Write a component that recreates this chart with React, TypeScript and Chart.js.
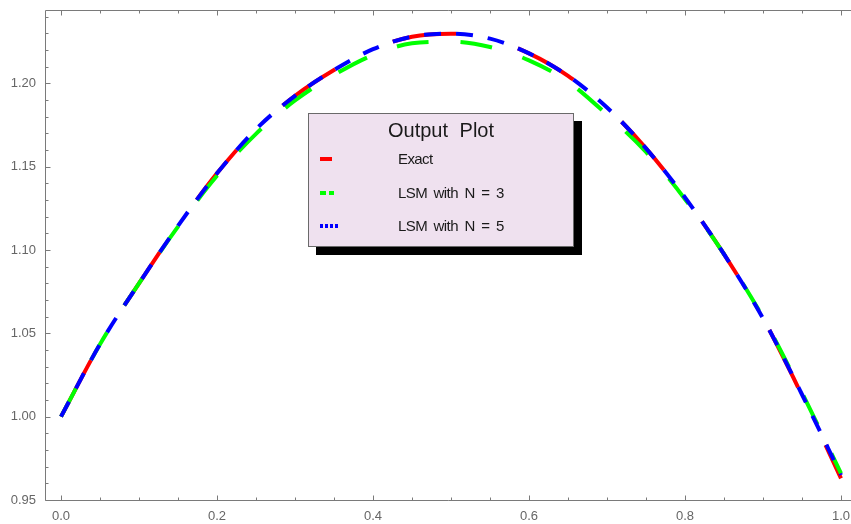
import React, { useEffect, useRef } from "react";
import { Chart, registerables } from "chart.js";

Chart.register(...registerables);

// ---- data ----
const xValues = [0, 0.05, 0.1, 0.15, 0.2, 0.25, 0.3, 0.35, 0.4, 0.45, 0.5, 0.55, 0.6, 0.65, 0.7, 0.75, 0.8, 0.85, 0.9, 0.95, 1.0];
const exactValues = [1.0, 1.0435, 1.08, 1.1145, 1.146, 1.1725, 1.1925, 1.208, 1.2205, 1.228, 1.2298, 1.2268, 1.218, 1.2045, 1.1855, 1.161, 1.1315, 1.0975, 1.059, 1.0128, 0.963];
const lsm3Values = [1.0, 1.0435, 1.08, 1.114, 1.1445, 1.1697, 1.1897, 1.205, 1.217, 1.224, 1.225, 1.2218, 1.2138, 1.201, 1.1812, 1.1588, 1.1305, 1.0975, 1.0595, 1.0143, 0.966];
const lsm5Values = [1.0, 1.0435, 1.08, 1.1145, 1.146, 1.1725, 1.1925, 1.208, 1.2205, 1.228, 1.2298, 1.2268, 1.218, 1.2045, 1.1855, 1.161, 1.1315, 1.0975, 1.059, 1.0133, 0.965];
const xTickValues = [0, 0.2, 0.4, 0.6, 0.8, 1.0];
const yTickValues = [0.95, 1.0, 1.05, 1.1, 1.15, 1.2];
const seriesLabels = ["Exact", "LSM with N = 3", "LSM with N = 5"];
const seriesColors = ["#ff0000", "#00ff00", "#0000ff"];
const chartTitle = "Output Plot";

const FRAME_COLOR = "#7a7a7a";
const LABEL_COLOR = "#666666";
const FONT = "'Liberation Sans', Arial, sans-serif";

const framePlugin = {
  id: "mmaFrame",
  beforeDatasetsDraw(chart: any) {
    const { ctx, chartArea, scales } = chart;
    const xs = scales.x;
    const ys = scales.y;
    const L = Math.round(chartArea.left) + 0.5;
    const T = Math.round(chartArea.top) + 0.5;
    const B = Math.round(chartArea.bottom) + 0.5;
    const R = chart.width;
    ctx.save();
    ctx.strokeStyle = FRAME_COLOR;
    ctx.lineWidth = 1;
    ctx.beginPath();
    ctx.moveTo(R, T);
    ctx.lineTo(L, T);
    ctx.lineTo(L, B);
    ctx.lineTo(R, B);
    ctx.stroke();
    // y ticks (inward)
    ctx.beginPath();
    for (let i = 0; i <= 29; i++) {
      const v = 0.95 + i * 0.01;
      if (v > ys.max + 1e-9) break;
      const py = Math.round(ys.getPixelForValue(v)) + 0.5;
      const major = i % 5 === 0;
      const len = major ? 5 : 3;
      ctx.moveTo(L, py);
      ctx.lineTo(L + len, py);
    }
    // x ticks bottom and top
    for (let i = 0; i <= 20; i++) {
      const v = i * 0.05;
      const px = Math.round(xs.getPixelForValue(v)) + 0.5;
      const major = i % 4 === 0;
      const len = major ? 5 : 3;
      ctx.moveTo(px, B);
      ctx.lineTo(px, B - len);
      ctx.moveTo(px, T);
      ctx.lineTo(px, T + len);
    }
    ctx.stroke();
    // tick labels
    ctx.fillStyle = LABEL_COLOR;
    ctx.font = `13px ${FONT}`;
    ctx.textAlign = "right";
    ctx.textBaseline = "middle";
    yTickValues.forEach((v) => {
      ctx.fillText(v.toFixed(2), L - 9.5, ys.getPixelForValue(v));
    });
    ctx.textAlign = "center";
    xTickValues.forEach((v) => {
      ctx.fillText(v.toFixed(1), xs.getPixelForValue(v), B + 16);
    });
    ctx.restore();
  },
};

function makeData(vals: number[]) {
  return xValues.map((x, i) => ({ x, y: vals[i] }));
}

export default function App() {
  const canvasRef = useRef<HTMLCanvasElement | null>(null);

  useEffect(() => {
    const canvas = canvasRef.current;
    if (!canvas) return;
    const dashes = [[64, 64], [32, 32], [17, 15]];
    const allVals = [exactValues, lsm3Values, lsm5Values];
    const chart = new Chart(canvas, {
      type: "scatter",
      data: {
        datasets: allVals.map((vals, i) => ({
          label: seriesLabels[i],
          data: makeData(vals),
          showLine: true,
          borderColor: seriesColors[i],
          backgroundColor: seriesColors[i],
          borderWidth: 4,
          borderDash: dashes[i],
          borderCapStyle: "butt",
          pointRadius: 0,
          pointHoverRadius: 0,
          cubicInterpolationMode: "monotone",
          fill: false,
          order: 3 - i,
        })),
      },
      options: {
        animation: false,
        responsive: false,
        devicePixelRatio: 1,
        events: [],
        layout: { padding: { top: 10, left: 0, right: 0, bottom: 0 } },
        plugins: {
          legend: { display: false },
          tooltip: { enabled: false },
          title: { display: false },
        },
        scales: {
          x: {
            type: "linear",
            min: -16 / 780,
            max: 1 + 10 / 780,
            grid: { display: false, drawTicks: false },
            border: { display: false },
            afterBuildTicks: (s: any) => {
              s.ticks = xTickValues.map((v) => ({ value: v }));
            },
            afterFit: (s: any) => {
              s.height = 24;
            },
            ticks: { display: false },
          },
          y: {
            type: "linear",
            min: 0.95,
            max: 0.95 + 490 / (83.3333 / 0.05),
            grid: { display: false, drawTicks: false },
            border: { display: false },
            afterBuildTicks: (s: any) => {
              s.ticks = yTickValues.map((v) => ({ value: v }));
            },
            afterFit: (s: any) => {
              s.width = 45;
            },
            ticks: { display: false },
          },
        },
      },
      plugins: [framePlugin],
    } as any);
    return () => chart.destroy();
  }, []);

  const rowTops = [45, 79, 112];

  return (
    <div style={{ position: "absolute", left: 0, top: 0, width: 851, height: 524, background: "#fff" }}>
      <canvas ref={canvasRef} width={851} height={524} style={{ display: "block", width: 851, height: 524 }} />
      <div
        style={{
          position: "absolute",
          left: 308,
          top: 113,
          width: 266,
          height: 134,
          boxSizing: "border-box",
          border: "1px solid #6a6a6a",
          background: "#efe1ef",
          boxShadow: "8px 8px 0 0 #000",
          fontFamily: FONT,
          color: "#1a1a1a",
        }}
      >
        <div
          style={{
            position: "absolute",
            left: 0,
            right: 0,
            top: 4,
            textAlign: "center",
            fontSize: 20,
            lineHeight: "24px",
            wordSpacing: 6,
          }}
        >
          {chartTitle}
        </div>
        {/* Exact sample */}
        <div style={{ position: "absolute", left: 11, top: rowTops[0] - 2, width: 12, height: 4, background: seriesColors[0] }} />
        {/* N = 3 sample */}
        <div style={{ position: "absolute", left: 11, top: rowTops[1] - 2, width: 6, height: 4, background: seriesColors[1] }} />
        <div style={{ position: "absolute", left: 20, top: rowTops[1] - 2, width: 5, height: 4, background: seriesColors[1] }} />
        {/* N = 5 sample */}
        {[0, 1, 2, 3].map((k) => (
          <div key={k} style={{ position: "absolute", left: 11 + k * 5, top: rowTops[2] - 2, width: 3, height: 4, background: seriesColors[2] }} />
        ))}
        {seriesLabels.map((lab, i) => (
          <div
            key={lab}
            style={{
              position: "absolute",
              left: 89,
              top: rowTops[i] - 9,
              fontSize: 15,
              lineHeight: "18px",
              letterSpacing: -0.6,
              wordSpacing: 3,
              whiteSpace: "pre",
            }}
          >
            {lab}
          </div>
        ))}
      </div>
    </div>
  );
}
